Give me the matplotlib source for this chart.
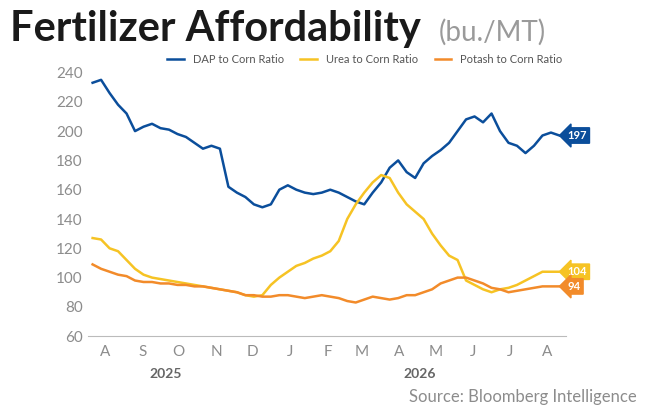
import matplotlib.pyplot as plt
import pandas as pd

plt.rcParams['font.family'] = ['Lato', 'DejaVu Sans']

dap = [233, 235, 226, 218, 212, 200, 203, 205, 202, 201, 198, 196, 192, 188, 190, 188,
       162, 158, 155, 150, 148, 150, 160, 163, 160, 158, 157, 158, 160, 158, 155, 152,
       150, 158, 165, 175, 180, 172, 168, 178, 183, 187, 192, 200, 208, 210, 206, 212,
       200, 192, 190, 185, 190, 197, 199, 197]
urea = [127, 126, 120, 118, 112, 106, 102, 100, 99, 98, 97, 96, 95, 94, 93, 92,
        91, 90, 88, 87, 88, 95, 100, 104, 108, 110, 113, 115, 118, 125, 140, 150,
        158, 165, 170, 168, 158, 150, 145, 140, 130, 122, 115, 112, 98, 95, 92, 90,
        92, 93, 95, 98, 101, 104, 104, 104]
potash = [109, 106, 104, 102, 101, 98, 97, 97, 96, 96, 95, 95, 94, 94, 93, 92,
          91, 90, 88, 88, 87, 87, 88, 88, 87, 86, 87, 88, 87, 86, 84, 83,
          85, 87, 86, 85, 86, 88, 88, 90, 92, 96, 98, 100, 100, 98, 96, 93,
          92, 90, 91, 92, 93, 94, 94, 94]
months = ['A', 'S', 'O', 'N', 'D', 'J', 'F', 'M', 'A', 'M', 'J', 'J', 'A']

c_dap, c_urea, c_pot = '#0b4e9b', '#f6c324', '#f28b2a'
grey = '#8c8c8c'

dates = pd.date_range('2025-08-01', periods=len(dap), freq='7D')

fig = plt.figure(figsize=(6.5, 4.12), dpi=100)
ax = fig.add_axes([0.135, 0.184, 0.735, 0.64])
ax.plot(dates, dap, color=c_dap, lw=1.8, label='DAP to Corn Ratio')
ax.plot(dates, urea, color=c_urea, lw=1.8, label='Urea to Corn Ratio')
ax.plot(dates, potash, color=c_pot, lw=1.8, label='Potash to Corn Ratio')

ax.set_ylim(60, 240)
ax.set_yticks(range(60, 241, 20))
ax.set_xlim(pd.Timestamp('2025-07-28'), pd.Timestamp('2026-08-26'))
ticks = pd.date_range('2025-08-01', periods=13, freq='MS') + pd.Timedelta(days=10)
ax.set_xticks(ticks)
ax.set_xticklabels(months)
ax.tick_params(axis='both', colors=grey, labelsize=11, length=0)
ax.tick_params(axis='x', pad=6)
for s in ['top', 'right', 'left']:
    ax.spines[s].set_visible(False)
ax.spines['bottom'].set_color('#bbbbbb')

ax.text(pd.Timestamp('2025-09-30'), -0.16, '2025', transform=ax.get_xaxis_transform(),
        ha='center', fontsize=10, fontweight='bold', color='#666666')
ax.text(pd.Timestamp('2026-04-28'), -0.16, '2026', transform=ax.get_xaxis_transform(),
        ha='center', fontsize=10, fontweight='bold', color='#666666')

for vals, c in [(dap, c_dap), (urea, c_urea), (potash, c_pot)]:
    ax.annotate(str(vals[-1]), xy=(dates[-1], vals[-1]), xytext=(6, 0),
                textcoords='offset points', va='center', ha='left', fontsize=8,
                fontweight='bold', color='white',
                bbox=dict(boxstyle='larrow,pad=0.2', fc=c, ec=c))

ax.legend(loc='lower center', bbox_to_anchor=(0.58, 0.99), ncol=3, frameon=False,
          fontsize=8, handlelength=1.5, columnspacing=1.5, labelcolor='#555555')

fig.text(0.015, 0.9, 'Fertilizer Affordability', fontsize=30, fontweight='bold', color='#1a1a1a')
fig.text(0.675, 0.9, '(bu./MT)', fontsize=20, color='#9a9a9a')
fig.text(0.98, 0.025, 'Source: Bloomberg Intelligence', ha='right', fontsize=12, color=grey)

fig.savefig('out.png', dpi=100)
